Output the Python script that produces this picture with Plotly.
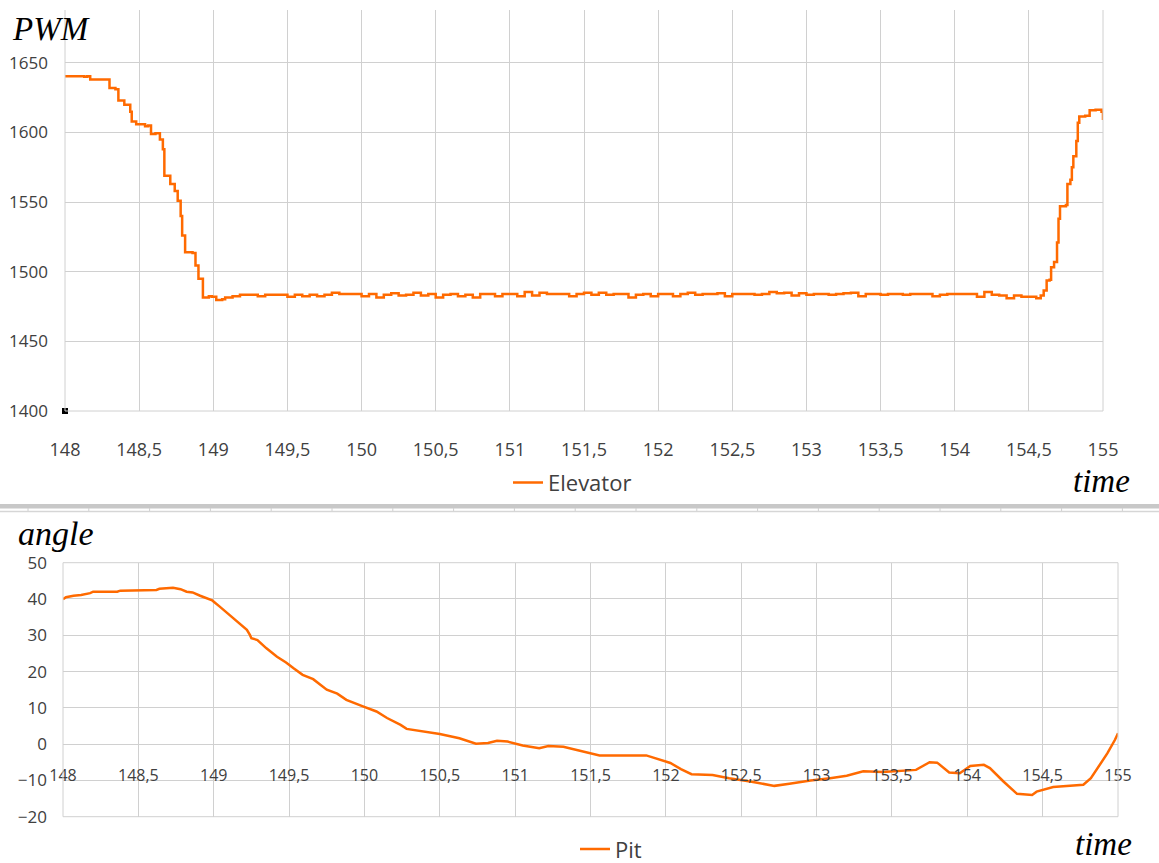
import plotly.graph_objects as go

# ---------------- data ----------------
elev_t = [
    148.00, 148.13, 148.15, 148.17, 148.28, 148.30, 148.34, 148.36, 148.40, 148.44,
    148.45, 148.48, 148.54, 148.56, 148.58, 148.61, 148.64, 148.66, 148.67, 148.71,
    148.74, 148.76, 148.78, 148.79, 148.81, 148.86, 148.88, 148.90, 148.93, 148.97,
    148.99, 149.02, 149.06, 149.08, 149.13, 149.18,
    149.20, 149.25, 149.30, 149.35, 149.40, 149.45, 149.50, 149.55, 149.60, 149.65,
    149.70, 149.75, 149.80, 149.85, 149.90, 149.95, 150.00, 150.05, 150.10, 150.15,
    150.20, 150.25, 150.30, 150.35, 150.40, 150.45, 150.50, 150.55, 150.60, 150.65,
    150.70, 150.75, 150.80, 150.85, 150.90, 150.95, 151.00, 151.05, 151.10, 151.15,
    151.20, 151.25, 151.30, 151.35, 151.40, 151.45, 151.50, 151.55, 151.60, 151.65,
    151.70, 151.75, 151.80, 151.85, 151.90, 151.95, 152.00, 152.05, 152.10, 152.15,
    152.20, 152.25, 152.30, 152.35, 152.40, 152.45, 152.50, 152.55, 152.60, 152.65,
    152.70, 152.75, 152.80, 152.85, 152.90, 152.95, 153.00, 153.05, 153.10, 153.15,
    153.20, 153.25, 153.30, 153.35, 153.40, 153.45, 153.50, 153.55, 153.60, 153.65,
    153.70, 153.75, 153.80, 153.85, 153.90, 153.95, 154.00, 154.05, 154.10, 154.15,
    154.20, 154.25, 154.30, 154.35, 154.40, 154.45, 154.50, 154.55,
    154.58, 154.60, 154.62, 154.64, 154.65, 154.67, 154.69, 154.70, 154.71, 154.75,
    154.76, 154.78, 154.79, 154.80, 154.82, 154.83, 154.84, 154.88, 154.91, 154.95,
    154.99, 155.00,
]
elev_v = [
    1640.5, 1640, 1640.5, 1638, 1638, 1632, 1631, 1623, 1620, 1615,
    1608, 1606, 1604.5, 1605, 1599, 1599.5, 1595, 1588, 1569, 1563,
    1558, 1551, 1540, 1526, 1514, 1513.5, 1504.5, 1495, 1481.5, 1482.5,
    1482, 1479.8, 1480.2, 1481.6, 1482.5, 1483.5,
    1483.5, 1483.5, 1482.5, 1483.5, 1483.5, 1483.5, 1482, 1483.5, 1482.5, 1483.5,
    1482.5, 1483.5, 1485, 1484, 1484, 1484, 1482.5, 1484, 1481.5, 1483.5,
    1484.5, 1483, 1483.5, 1485, 1483, 1484, 1481.5, 1483.5, 1484, 1482.5,
    1483.5, 1481.5, 1484, 1484, 1482.5, 1484, 1484, 1482.5, 1485.5, 1483,
    1485, 1484, 1484, 1484, 1482.5, 1484, 1485, 1483.5, 1485, 1483.5,
    1484, 1484, 1481.5, 1483.5, 1484, 1482.5, 1484, 1484, 1482.5, 1484,
    1485, 1483.5, 1484, 1484, 1484.5, 1482.5, 1484, 1484, 1484, 1483.5,
    1484, 1485.5, 1484.5, 1485, 1483, 1484.5, 1483.5, 1484, 1484, 1483.5,
    1484, 1484.5, 1485, 1482.5, 1484, 1484, 1483.5, 1484, 1484, 1483.5,
    1484, 1484, 1484, 1482.5, 1483.5, 1484, 1484, 1484, 1484, 1482,
    1485.5, 1483.5, 1483, 1481, 1483, 1482, 1482, 1481,
    1483, 1486.6, 1493.8, 1494.3, 1503.3, 1507, 1521, 1538, 1547, 1548,
    1563, 1566, 1575, 1583, 1594, 1607, 1611.6, 1612, 1616, 1616.4,
    1615, 1609,
]

pit_t = [
    148.00, 148.02, 148.07, 148.12, 148.18, 148.20, 148.36, 148.38, 148.62, 148.64,
    148.73, 148.78, 148.82, 148.86, 148.91, 148.95, 148.99, 149.04, 149.13, 149.22,
    149.24, 149.25, 149.29, 149.35, 149.42, 149.48, 149.53, 149.59, 149.66, 149.75,
    149.82, 149.88, 149.99, 150.08, 150.15, 150.24, 150.28, 150.39, 150.50, 150.63,
    150.74, 150.82, 150.88, 150.95, 151.05, 151.16, 151.22, 151.32, 151.41, 151.50,
    151.56, 151.87, 151.94, 152.03, 152.10, 152.17, 152.31, 152.42, 152.56, 152.65,
    152.72, 152.82, 152.96, 153.09, 153.20, 153.31, 153.44, 153.66, 153.75, 153.80,
    153.88, 153.95, 154.02, 154.11, 154.15, 154.24, 154.33, 154.43, 154.46, 154.57,
    154.68, 154.77, 154.82, 154.87, 154.93, 154.98, 155.00,
]
pit_v = [
    39.9, 40.5, 40.9, 41.1, 41.6, 42.0, 42.0, 42.3, 42.5, 42.8,
    43.1, 42.7, 42.0, 41.8, 40.9, 40.2, 39.6, 37.9, 34.7, 31.5,
    30.1, 29.2, 28.7, 26.4, 24.1, 22.5, 20.9, 19.1, 17.9, 15.0,
    13.9, 12.2, 10.4, 9.0, 7.2, 5.3, 4.2, 3.5, 2.8, 1.6,
    0.1, 0.3, 0.9, 0.7, -0.4, -1.1, -0.5, -0.7, -1.6, -2.5,
    -3.1, -3.1, -4.0, -5.2, -6.9, -8.3, -8.5, -9.4, -10.3, -11.0,
    -11.5, -10.9, -10.0, -9.4, -8.7, -7.5, -7.7, -7.1, -5.0, -5.1,
    -7.8, -8.0, -6.0, -5.7, -6.6, -10.3, -13.7, -14.0, -13.1, -11.8,
    -11.5, -11.2, -9.4, -6.2, -2.5, 1.2, 3.0,
]

marker_t = [148]
marker_v = [1400]

x_ticks = [148, 148.5, 149, 149.5, 150, 150.5, 151, 151.5, 152, 152.5, 153, 153.5, 154, 154.5, 155]
x_tick_text = ["148", "148,5", "149", "149,5", "150", "150,5", "151", "151,5", "152",
               "152,5", "153", "153,5", "154", "154,5", "155"]
pwm_ticks = [1400, 1450, 1500, 1550, 1600, 1650]
angle_ticks = [-20, -10, 0, 10, 20, 30, 40, 50]

ORANGE = "#FF6A00"
GRID = "#d0d0d0"
TXT = "#404040"
FONT = "Open Sans"

W, H = 1159, 863

fig = go.Figure()
fig.add_trace(go.Scatter(x=elev_t, y=elev_v, mode="lines", name="Elevator",
                         line=dict(color=ORANGE, width=2.5, shape="hv"),
                         xaxis="x", yaxis="y", legend="legend"))
fig.add_trace(go.Scatter(x=marker_t, y=marker_v, mode="markers", showlegend=False,
                         marker=dict(symbol="square", size=6, color="black"),
                         cliponaxis=False, xaxis="x", yaxis="y", hoverinfo="skip"))
fig.add_trace(go.Scatter(x=pit_t, y=pit_v, mode="lines", name="Pit",
                         line=dict(color=ORANGE, width=2.5),
                         xaxis="x2", yaxis="y2", legend="legend2"))

top_y0, top_y1 = 1 - 411 / H, 1 - 10 / H
bot_y0, bot_y1 = 1 - 816.7 / H, 1 - 562.7 / H
zero_pos = bot_y0 + (20 / 70) * (bot_y1 - bot_y0)

fig.update_layout(
    width=W, height=H,
    margin=dict(l=0, r=0, t=0, b=0, autoexpand=False),
    paper_bgcolor="white", plot_bgcolor="white",
    font=dict(family=FONT, color=TXT),
    xaxis=dict(domain=[65 / W, 1103 / W], range=[148, 155], anchor="y",
               tickmode="array", tickvals=x_ticks, ticktext=x_tick_text,
               showgrid=True, gridcolor=GRID, gridwidth=1, zeroline=False,
               showline=False, ticks="", tickfont=dict(size=18, color=TXT, family=FONT),
               ticklabelstandoff=26),
    yaxis=dict(domain=[top_y0, top_y1], range=[1400, 1688], anchor="x",
               tickmode="array", tickvals=pwm_ticks,
               showgrid=True, gridcolor=GRID, gridwidth=1, zeroline=False,
               showline=False, ticks="", tickfont=dict(size=17, color=TXT, family=FONT),
               ticklabelstandoff=16),
    xaxis2=dict(domain=[63 / W, 1118 / W], range=[148, 155], anchor="free", position=zero_pos,
                tickmode="array", tickvals=x_ticks, ticktext=x_tick_text,
                showgrid=True, gridcolor=GRID, gridwidth=1, zeroline=False,
                showline=False, ticks="", tickfont=dict(size=16, color=TXT, family=FONT),
                ticklabelstandoff=20),
    yaxis2=dict(domain=[bot_y0, bot_y1], range=[-20, 50], anchor="x2",
                tickmode="array", tickvals=angle_ticks,
                showgrid=True, gridcolor=GRID, gridwidth=1, zeroline=False,
                showline=False, ticks="", tickfont=dict(size=17, color=TXT, family=FONT),
                ticklabelstandoff=15),
    legend=dict(x=508 / W, y=1 - 482.7 / H, xanchor="left", yanchor="middle",
                bgcolor="rgba(0,0,0,0)", font=dict(size=22, color=TXT, family=FONT)),
    legend2=dict(x=575 / W, y=1 - 849.3 / H, xanchor="left", yanchor="middle",
                 bgcolor="rgba(0,0,0,0)", font=dict(size=22, color=TXT, family=FONT)),
    showlegend=True,
)

shapes = [
    # top plot borders (left, right, bottom)
    dict(type="line", xref="x domain", yref="y domain", x0=0, x1=0, y0=0, y1=1, line=dict(color=GRID, width=1)),
    dict(type="line", xref="x domain", yref="y domain", x0=1, x1=1, y0=0, y1=1, line=dict(color=GRID, width=1)),
    dict(type="line", xref="x domain", yref="y domain", x0=0, x1=1, y0=0, y1=0, line=dict(color=GRID, width=1)),
    # bottom plot border
    dict(type="rect", xref="x2 domain", yref="y2 domain", x0=0, x1=1, y0=0, y1=1, line=dict(color=GRID, width=1)),
    # separator band between the two charts
    dict(type="rect", xref="paper", yref="paper", x0=0, x1=1, y0=1 - 508.5 / H, y1=1 - 504 / H,
         fillcolor="#c8c8c8", line=dict(width=0)),
    dict(type="line", xref="paper", yref="paper", x0=0, x1=1, y0=1 - 511.5 / H, y1=1 - 511.5 / H,
         line=dict(color="#d6d6d6", width=1.5)),
]
xs = 28.0
while xs < W:
    shapes.append(dict(type="line", xref="paper", yref="paper", x0=xs / W, x1=xs / W,
                       y0=1 - 511 / H, y1=1 - 508 / H, line=dict(color="#d0d0d0", width=1)))
    xs += 60.8
fig.update_layout(shapes=shapes)

serif = "Liberation Serif"
ann = [
    ("PWM", 11, 29, 33, "middle"),
    ("time", 1072, 481, 33, "middle"),
    ("angle", 17, 533, 34, "middle"),
    ("time", 1074, H, 33, "bottom"),
]
for txt, px, py, fs, ya in ann:
    fig.add_annotation(text="<i>" + txt + "</i>", xref="paper", yref="paper",
                       x=px / W, y=1 - py / H, xanchor="left", yanchor=ya,
                       showarrow=False, borderpad=0,
                       font=dict(family=serif, size=fs, color="black"))

fig.write_html("out.html", config={"displayModeBar": False},
               post_script="document.body.style.margin='0px';document.body.style.overflow='hidden';")
